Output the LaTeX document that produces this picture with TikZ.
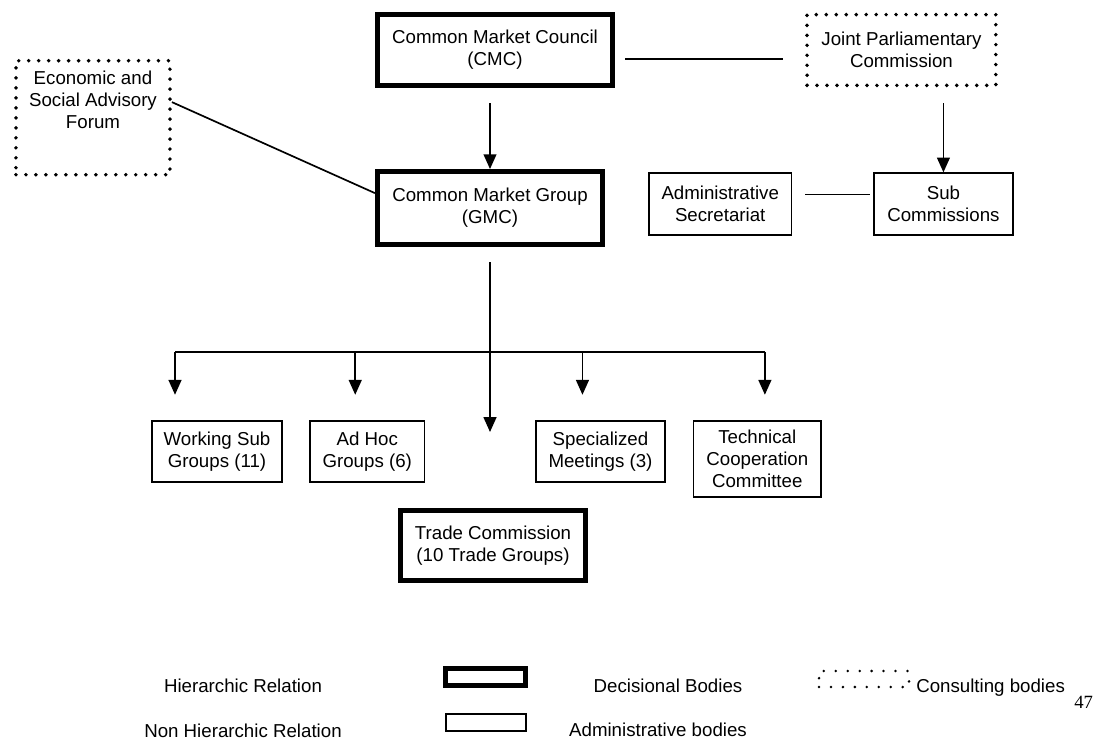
\documentclass[tikz,border=0pt]{standalone}
\usepackage{fontspec}
\setmainfont{Liberation Sans}
\newfontfamily\pagefont{Liberation Serif}
\usetikzlibrary{arrows.meta,positioning,calc}
\tikzset{orgbox/.style={align=center,font=\fontsize{13.3}{15.6}\selectfont,inner sep=1mm},decision/.style={orgbox,draw,line width=3.5pt},admin/.style={orgbox,draw,line width=1.3pt},consult/.style={orgbox,draw,line width=2.8pt,dash pattern=on 0pt off 7.1pt,line cap=round},arr/.style={-{Triangle[length=3.7mm,width=3.2mm]},line width=1.2pt},link/.style={line width=1.2pt},legtext/.style={font=\fontsize{13.3}{15.6}\selectfont,anchor=base,inner sep=0pt}}

\begin{document}
\begin{tikzpicture}
\useasboundingbox (0,0) rectangle (275.75mm,-184.75mm);
\node[decision,minimum width=58.8mm,minimum height=17.8mm] (cmc) at (123.75mm,-12.5mm) {Common Market Council\\(CMC)};
\node[decision,minimum width=56.3mm,minimum height=18.3mm,below=20.25mm of cmc,xshift=-1.25mm] (gmc) {Common Market Group\\(GMC)};
\node[consult,minimum width=47.2mm,minimum height=17.7mm,right=47.5mm of cmc] (jpc) {Joint Parliamentary\\Commission};
\node[consult,minimum width=38.5mm,minimum height=28.5mm,left=50.75mm of gmc,yshift=22.6mm,label={[orgbox,anchor=north,yshift=-2mm]north:Economic and\\Social Advisory\\Forum}] (esaf) {};
\node[admin,minimum width=34.6mm,minimum height=15.4mm,below=21.25mm of jpc,xshift=10.5mm] (subc) {Sub\\Commissions};
\node[admin,minimum width=35.6mm,minimum height=15.4mm,left=20.25mm of subc] (secr) {Administrative\\Secretariat};
% working bodies under the group
\node[admin,minimum width=32.6mm,minimum height=15.4mm] (wsg) at (54.25mm,-112.875mm) {Working Sub\\Groups (11)};
\node[admin,minimum width=28.6mm,minimum height=15.4mm,right=6.5mm of wsg] (adhoc) {Ad Hoc\\Groups (6)};
\node[admin,minimum width=32.1mm,minimum height=15.4mm,right=27.5mm of adhoc] (spec) {Specialized\\Meetings (3)};
\node[admin,minimum width=31.9mm,minimum height=19.1mm,right=6.75mm of spec,yshift=-1.85mm] (tcc) {Technical\\Cooperation\\Committee};
\node[decision,minimum width=46.3mm,minimum height=17.5mm,anchor=north] (trade) at (123.25mm,-127mm) {Trade Commission\\(10 Trade Groups)};
\draw[arr] ($(cmc.south -| gmc.north)+(0,-3.75mm)$) -- (gmc.north);
\draw[arr] ($(jpc.south -| subc.north)+(0,-4mm)$) -- (subc.north);
\draw[link] ($(cmc.east)+(2.5mm,-2.25mm)$) -- ($(jpc.west)+(-5.5mm,-2.25mm)$);
\draw[link] ($(secr.east)+(3.25mm,2.4mm)$) -- ($(subc.west)+(-0.75mm,2.4mm)$);
\draw[link] ($(esaf.east)+(0,3.9mm)$) -- ($(gmc.west)+(0,3.75mm)$);
\draw[arr] ($(gmc.south)+(0,-3.75mm)$) -- ($(gmc.south |- trade.north)+(0,19mm)$);
\draw[link] ($(wsg.north)+(-10.5mm,17mm)$) -- ($(wsg.north -| tcc.north)+(1.9mm,17mm)$);
\foreach \body/\dx in {wsg/-10.5mm,adhoc/-3mm,spec/-4.5mm,tcc/1.9mm}
  \draw[arr] ($(\body.north)+(\dx,17mm)$) -- ($(\body.north)+(\dx,6.25mm)$);
% legend
\node[legtext] (hier) at (60.75mm,-173mm) {Hierarchic Relation};
\node[legtext] (nonhier) at (60.75mm,-184.25mm) {Non Hierarchic Relation};
\node[decision,minimum width=20mm,minimum height=4.3mm,inner sep=0pt] (legdec) at (121.4mm,-169.25mm) {};
\node[admin,minimum width=20.15mm,minimum height=4.4mm,inner sep=0pt] (legadm) at (121.5mm,-180.6mm) {};
\node[legtext] (dectext) at (167mm,-173mm) {Decisional Bodies};
\node[legtext] (admtext) at (164.5mm,-184.2mm) {Administrative bodies};
\node[consult,line width=2pt,dash pattern=on 0pt off 8.5pt,minimum width=22.5mm,minimum height=4mm,inner sep=0pt] (legcon) at (216mm,-169.75mm) {};
\node[legtext,anchor=base west] (context) at (229mm,-173mm) {Consulting bodies};
\node[font=\pagefont\fontsize{13.3}{15.6}\selectfont,anchor=base west,inner sep=0pt] (pagenum) at (268.5mm,-177mm) {47};
\end{tikzpicture}
\end{document}
